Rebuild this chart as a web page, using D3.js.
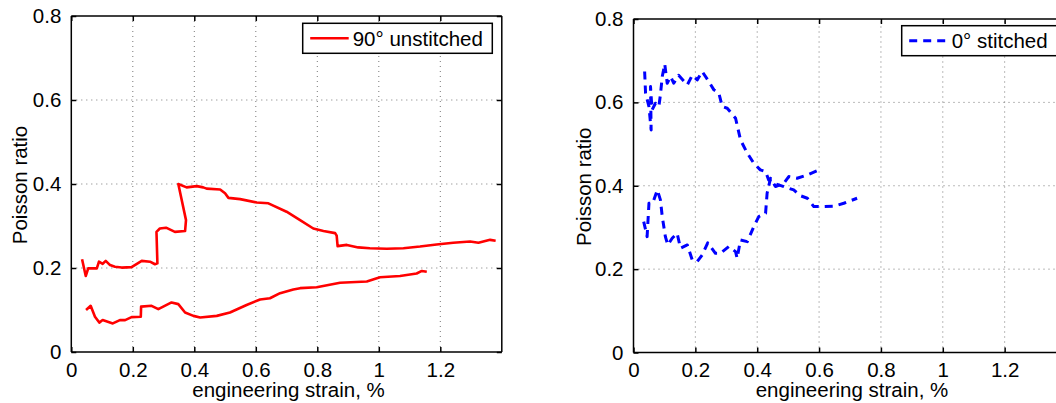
<!DOCTYPE html>
<html><head><meta charset="utf-8">
<script src="https://cdn.jsdelivr.net/npm/d3@7"></script>
<style>body{margin:0;background:#fff;overflow:hidden}svg{display:block;font-family:"Liberation Sans",Arial,sans-serif}</style>
</head><body><svg id="c" width="1056" height="403"></svg>
<script>
// ---------- data ----------
const xTicks = [0, 0.2, 0.4, 0.6, 0.8, 1, 1.2];
const yTicks = [0, 0.2, 0.4, 0.6, 0.8];
const xTickLabels = ["0", "0.2", "0.4", "0.6", "0.8", "1", "1.2"];
const yTickLabels = ["0", "0.2", "0.4", "0.6", "0.8"];
const xLabel = "engineering strain, %";
const yLabel = "Poisson ratio";

// 90° unstitched (left panel), two branches
const unstUpperX = [0.035,0.047,0.055,0.083,0.09,0.102,0.112,0.126,0.142,0.164,0.196,0.229,0.256,0.272,0.28,0.277,0.288,0.308,0.337,0.37,0.373,0.348,0.375,0.408,0.429,0.44,0.484,0.5,0.511,0.549,0.603,0.641,0.70,0.744,0.787,0.82,0.858,0.863,0.866,0.896,0.933,0.971,1.026,1.08,1.134,1.188,1.242,1.297,1.324,1.362,1.38];
const unstUpperY = [0.221,0.181,0.199,0.199,0.215,0.21,0.217,0.207,0.203,0.201,0.202,0.217,0.215,0.209,0.211,0.286,0.294,0.296,0.286,0.288,0.314,0.40,0.392,0.395,0.392,0.389,0.387,0.378,0.367,0.364,0.356,0.354,0.334,0.314,0.294,0.288,0.283,0.277,0.252,0.255,0.249,0.247,0.246,0.247,0.251,0.256,0.26,0.263,0.26,0.267,0.265];
const unstLowerX = [0.048,0.063,0.077,0.091,0.102,0.135,0.158,0.175,0.196,0.226,0.227,0.261,0.283,0.326,0.348,0.37,0.397,0.419,0.473,0.516,0.57,0.614,0.646,0.679,0.722,0.744,0.798,0.874,0.961,1.004,1.069,1.123,1.14,1.156];
const unstLowerY = [0.10,0.11,0.084,0.07,0.076,0.068,0.076,0.076,0.083,0.084,0.108,0.11,0.102,0.118,0.114,0.094,0.086,0.082,0.086,0.094,0.112,0.125,0.128,0.14,0.149,0.152,0.154,0.165,0.168,0.178,0.181,0.187,0.193,0.191];

// 0° stitched (right panel), two branches
const stUpperX = [0.036,0.039,0.05,0.057,0.055,0.06,0.071,0.082,0.087,0.093,0.101,0.109,0.12,0.13,0.146,0.174,0.19,0.206,0.222,0.24,0.26,0.276,0.287,0.303,0.33,0.346,0.368,0.389,0.41,0.427,0.437,0.454,0.486,0.518,0.54,0.562,0.583,0.615,0.648,0.68,0.723];
const stUpperY = [0.674,0.622,0.59,0.534,0.638,0.582,0.598,0.59,0.618,0.662,0.692,0.646,0.662,0.646,0.665,0.642,0.665,0.654,0.674,0.654,0.63,0.622,0.59,0.586,0.562,0.51,0.478,0.454,0.438,0.434,0.414,0.406,0.398,0.39,0.376,0.37,0.35,0.35,0.351,0.358,0.37];
const stLowerX = [0.033,0.044,0.05,0.062,0.077,0.087,0.093,0.103,0.111,0.125,0.141,0.152,0.174,0.19,0.206,0.222,0.24,0.265,0.281,0.308,0.33,0.335,0.346,0.368,0.389,0.405,0.427,0.432,0.443,0.459,0.486,0.502,0.529,0.562,0.599];
const stLowerY = [0.314,0.278,0.358,0.358,0.39,0.366,0.326,0.278,0.258,0.274,0.286,0.25,0.258,0.222,0.218,0.234,0.263,0.238,0.238,0.254,0.242,0.226,0.27,0.266,0.302,0.326,0.334,0.382,0.418,0.398,0.406,0.422,0.418,0.426,0.438];

// ---------- drawing ----------
const svg = d3.select("#c");
const zip = (xs, ys) => xs.map((x, i) => [x, ys[i]]);

function panel(cfg) {
  const x = d3.scaleLinear().domain([0, 1.4]).range([cfg.x0, cfg.x1]);
  const y = d3.scaleLinear().domain([0, 0.8]).range([cfg.y0, cfg.y1]);
  const g = svg.append("g");
  // grid
  g.selectAll(".gx").data(xTicks.slice(1)).join("line")
    .attr("x1", d => x(d)).attr("x2", d => x(d)).attr("y1", cfg.y0).attr("y2", cfg.y1)
    .attr("stroke", "#777").attr("stroke-width", 1).attr("stroke-dasharray", "1,4");
  g.selectAll(".gy").data(yTicks.slice(1, -1)).join("line")
    .attr("y1", d => y(d)).attr("y2", d => y(d)).attr("x1", cfg.x0).attr("x2", cfg.x1)
    .attr("stroke", "#777").attr("stroke-width", 1).attr("stroke-dasharray", "1,4");
  // data
  const line = d3.line().x(d => x(d[0])).y(d => y(d[1]));
  cfg.series.forEach(s => {
    g.append("path").attr("d", line(s)).attr("fill", "none")
      .attr("stroke", cfg.color).attr("stroke-width", cfg.width)
      .attr("stroke-linejoin", "round")
      .attr("stroke-dasharray", cfg.dash || null);
  });
  // axes (MATLAB style box with inward ticks)
  const axB = d3.axisBottom(x).tickValues(xTicks).tickSize(-5).tickFormat((d, i) => xTickLabels[i]).tickPadding(10);
  const axT = d3.axisTop(x).tickValues(xTicks).tickSize(-5).tickFormat("");
  const axL = d3.axisLeft(y).tickValues(yTicks).tickSize(-5).tickFormat((d, i) => yTickLabels[i]).tickPadding(10);
  const axR = d3.axisRight(y).tickValues(yTicks).tickSize(-5).tickFormat("");
  const style = a => {
    a.selectAll("path,line").attr("stroke", "#000").attr("stroke-width", 1.5);
    a.selectAll("text").attr("fill", "#000").attr("font-size", 20.5).attr("font-family", '"Liberation Sans",Arial,sans-serif');
  };
  g.append("g").attr("transform", `translate(0,${cfg.y0})`).call(axB).call(style).call(a => a.select(".domain").attr("d", `M${cfg.x0},0H${cfg.x1}`));
  g.append("g").attr("transform", `translate(0,${cfg.y1})`).call(axT).call(style).call(a => a.select(".domain").attr("d", `M${cfg.x0},0H${cfg.x1}`));
  g.append("g").attr("transform", `translate(${cfg.x0},0)`).call(axL).call(style).call(a => a.select(".domain").attr("d", `M0,${cfg.y0}V${cfg.y1}`));
  g.append("g").attr("transform", `translate(${cfg.x1},0)`).call(axR).call(style).call(a => a.select(".domain").attr("d", `M0,${cfg.y0}V${cfg.y1}`));
  // axis titles
  g.append("text").attr("x", (cfg.x0 + cfg.x1) / 2 + 2).attr("y", 397).attr("text-anchor", "middle")
    .attr("font-size", 20.5).text(xLabel);
  g.append("text").attr("transform", `translate(${cfg.yLabX},${(cfg.y0 + cfg.y1) / 2 + 1}) rotate(-90)`)
    .attr("text-anchor", "middle").attr("font-size", 20.5).text(yLabel);
  // legend
  const L = cfg.legend;
  g.append("rect").attr("x", L.x).attr("y", L.y).attr("width", L.w).attr("height", 30)
    .attr("fill", "#fff").attr("stroke", "#000").attr("stroke-width", 1.5);
  g.append("line").attr("x1", L.x + 7.5).attr("x2", L.x + 46).attr("y1", L.y + 15).attr("y2", L.y + 15)
    .attr("stroke", cfg.color).attr("stroke-width", cfg.width).attr("stroke-dasharray", cfg.dash || null);
  g.append("text").attr("x", L.x + 50).attr("y", L.y + 22.5).attr("font-size", 20.5).text(L.text);
}

panel({
  x0: 71.3, x1: 501.8, y0: 352, y1: 16, yLabX: 26.5,
  color: "#ff0000", width: 2.6,
  series: [zip(unstUpperX, unstUpperY), zip(unstLowerX, unstLowerY)],
  legend: { x: 302.7, y: 23.3, w: 189.6, text: "90° unstitched" }
});
panel({
  x0: 633.5, x1: 1066.5, y0: 352.5, y1: 19, yLabX: 590.5,
  color: "#0000ff", width: 3, dash: "8,6",
  series: [zip(stUpperX, stUpperY), zip(stLowerX, stLowerY)],
  legend: { x: 901.7, y: 25.7, w: 160, text: "0° stitched" }
});
</script>
</body></html>
